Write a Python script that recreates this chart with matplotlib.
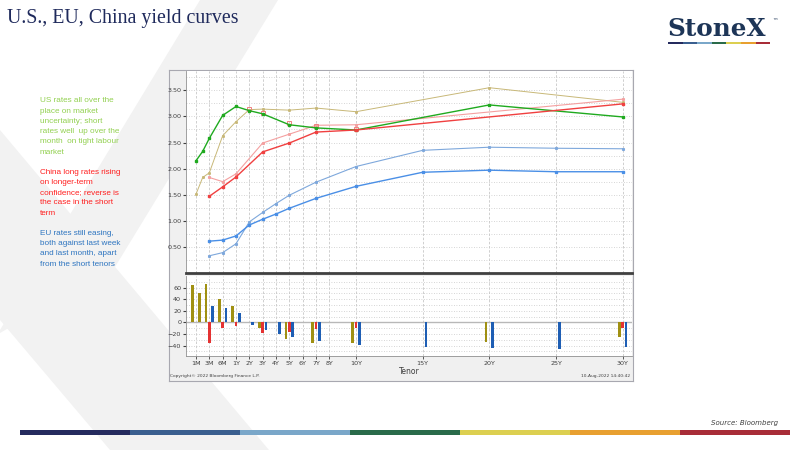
import matplotlib.pyplot as plt
from matplotlib.patches import Polygon, Rectangle

# tenors and yields (%)
us_tenors = ['1M', '2M', '3M', '6M', '1Y', '2Y', '3Y', '5Y', '7Y', '10Y', '20Y', '30Y']
us_now = [2.15, 2.33, 2.58, 3.02, 3.19, 3.11, 3.05, 2.84, 2.78, 2.74, 3.22, 2.99]
us_month = [1.51, 1.83, 1.92, 2.63, 2.90, 3.13, 3.14, 3.12, 3.16, 3.09, 3.55, 3.27]
us_week_tenors = ['2Y', '3Y', '5Y', '7Y', '10Y']
us_week = [3.14, 3.07, 2.87, 2.81, 2.75]

cn_tenors = ['3M', '6M', '1Y', '3Y', '5Y', '7Y', '10Y', '30Y']
cn_now = [1.47, 1.65, 1.84, 2.32, 2.49, 2.70, 2.74, 3.24]
cn_month = [1.83, 1.75, 1.90, 2.49, 2.66, 2.83, 2.84, 3.33]

eu_tenors = ['3M', '6M', '1Y', '2Y', '3Y', '4Y', '5Y', '7Y', '10Y', '15Y', '20Y', '25Y', '30Y']
eu_now = [0.61, 0.63, 0.71, 0.92, 1.03, 1.13, 1.24, 1.43, 1.66, 1.93, 1.97, 1.94, 1.94]
eu_month = [0.33, 0.39, 0.56, 0.98, 1.16, 1.33, 1.49, 1.74, 2.04, 2.35, 2.41, 2.39, 2.38]

# monthly change, bp
us_chg_tenors = ['1M', '2M', '3M', '6M', '1Y', '3Y', '5Y', '7Y', '10Y', '20Y', '30Y']
us_chg = [64, 50, 66, 40, 29, -10, -28, -36, -36, -33, -26]
cn_chg = [-36, -10, -7, -18, -17, -12, -10, -9]
eu_chg = [28, 25, 16, -5, -13, -20, -25, -32, -39, -42, -44, -46, -43]

axis_labels = ['1M', '3M', '6M', '1Y', '2Y', '3Y', '4Y', '5Y', '6Y', '7Y', '8Y',
               '10Y', '15Y', '20Y', '25Y', '30Y']

notes = [
    ("US rates all over the\nplace on market\nuncertainty; short\nrates well  up over the\nmonth  on tight labour\nmarket", '#92d050'),
    ("China long rates rising\non longer-term\nconfidence; reverse is\nthe case in the short\nterm", '#ff2020'),
    ("EU rates still easing,\nboth against last week\nand last month, apart\nfrom the short tenors", '#2e75c0'),
]


def tx(t):
    # Bloomberg tenor axis: 1M,3M,6M,1Y evenly spaced, then linear in years
    if t.endswith('M'):
        return {'1M': 0, '2M': 0.5, '3M': 1, '6M': 2}[t]
    return int(t[:-1]) + 2


def xs(tenors):
    return [tx(t) for t in tenors]


W, H = 800, 450
fig = plt.figure(figsize=(8, 4.5), dpi=100)
fig.patch.set_facecolor('white')


def fx(px):
    return px / W


def fy(py):
    return 1 - py / H


# background watermark "X"
bg = fig.add_axes([0, 0, 1, 1], zorder=-5)
bg.set_xlim(0, W)
bg.set_ylim(H, 0)
bg.axis('off')
wm = '#f2f2f2'
bg.add_patch(Polygon([(200, 0), (278, 0), (115, 267), (0, 333), (0, 330)], color=wm, lw=0))
bg.add_patch(Polygon([(0, 130), (0, 320), (110, 450), (269, 450)], color=wm, lw=0))

fig.text(fx(7), fy(19), 'U.S., EU, China yield curves', family='Liberation Serif',
         fontsize=14.3, color='#1f2a5c', va='center', ha='left')

# logo
fig.text(fx(667), fy(28.5), 'StoneX', family='DejaVu Serif', fontweight='bold',
         fontsize=17.8, color='#1d3557', va='center', ha='left')
fig.text(fx(772), fy(21), '\u2122', fontsize=4, color='#1d3557', va='center')
strip = ['#252b5e', '#3a5f8f', '#7aa7c9', '#2a6b4a', '#dccf50', '#e8a030', '#a82d38']
for i, c in enumerate(strip):
    bg.add_patch(Rectangle((668 + i * 14.6, 41.5), 14.6, 2.5, color=c, lw=0))
for i, c in enumerate(strip):
    bg.add_patch(Rectangle((20 + i * 110, 429.5), 110, 5, color=c, lw=0))
fig.text(fx(778), fy(423), 'Source: Bloomberg', fontsize=5, style='italic',
         color='#404040', ha='right', va='center')

# side notes, one text per line so the spacing is exact
ny = 101
for txt, col in notes:
    for line in txt.split('\n'):
        fig.text(fx(40), fy(ny), line, fontsize=5.9, color=col, va='center', ha='left',
                 family='Liberation Sans')
        ny += 10.2
    ny += 10.2

# Bloomberg chart frame
frame = fig.add_axes([fx(169), fy(381), fx(633 - 169), (381 - 70) / H], zorder=0)
frame.set_facecolor('#f0f0f0')
frame.set_xticks([])
frame.set_yticks([])
for s in frame.spines.values():
    s.set_color('#a8a8b0')
    s.set_linewidth(0.8)

x_lo, x_hi = -0.75, 32.7
grid_kw = dict(color='#c8c8c8', lw=0.6)

ax = fig.add_axes([fx(186), fy(273), fx(632 - 186), (273 - 71) / H], zorder=1)
ax.set_facecolor('white')
ax.plot(xs(us_tenors), us_month, color='#c8b878', lw=0.7, marker='s', ms=1.1, zorder=3)
ax.plot(xs(cn_tenors), cn_month, color='#f4a0a0', lw=0.8, marker='s', ms=1.2, zorder=3)
ax.plot(xs(eu_tenors), eu_month, color='#7ea8dc', lw=0.8, marker='s', ms=1.2, zorder=3)
ax.plot(xs(us_week_tenors), us_week, ls='none', marker='s', ms=3.2, mfc='none',
        mec='#f08080', mew=0.7, zorder=4)
ax.plot(xs(us_tenors), us_now, color='#1faa1f', lw=1.0, marker='s', ms=1.6, zorder=5)
ax.plot(xs(cn_tenors), cn_now, color='#f04040', lw=1.0, marker='s', ms=1.6, zorder=5)
ax.plot(xs(eu_tenors), eu_now, color='#4a8fe6', lw=1.0, marker='s', ms=1.6, zorder=5)
ax.set_xlim(x_lo, x_hi)
ax.set_ylim(0, 3.87)
ax.set_yticks([0.5, 1.0, 1.5, 2.0, 2.5, 3.0, 3.5])
ax.set_yticklabels(['%.2f' % v for v in ax.get_yticks()])
ax.set_yticks([i * 0.25 for i in range(1, 16)], minor=True)
ax.set_xticks(xs(axis_labels))
ax.tick_params(axis='x', length=0, labelbottom=False)
ax.tick_params(axis='y', which='major', length=2, width=0.8, labelsize=4.6,
               colors='#404040', pad=1.5)
ax.tick_params(axis='y', which='minor', length=0)
ax.grid(True, axis='x', ls=(0, (3, 2)), **grid_kw)
ax.grid(True, axis='y', which='both', ls=(0, (1, 2)), **grid_kw)
for s in ['top', 'right']:
    ax.spines[s].set_visible(False)
ax.spines['left'].set_color('#909090')
ax.spines['left'].set_linewidth(0.6)
ax.spines['bottom'].set_color('#404040')
ax.spines['bottom'].set_linewidth(2.0)

bx = fig.add_axes([fx(186), fy(356), fx(632 - 186), (356 - 276) / H], zorder=1)
bx.set_facecolor('white')
bw = 0.22
bx.bar([x - 0.25 for x in xs(us_chg_tenors)], us_chg, width=bw, color='#a09012', zorder=3)
bx.bar(xs(cn_tenors), cn_chg, width=bw, color='#e43232', zorder=3)
bx.bar([x + 0.25 for x in xs(eu_tenors)], eu_chg, width=bw, color='#1e5eb4', zorder=3)
bx.axhline(0, color='#b8b8b8', lw=1.0, zorder=2)
bx.set_xlim(x_lo, x_hi)
bx.set_ylim(-58, 80)
bx.set_yticks([-40, -20, 0, 20, 40, 60])
bx.set_yticks(range(-50, 80, 10), minor=True)
bx.set_xticks(xs(axis_labels))
bx.set_xticklabels(axis_labels)
bx.tick_params(axis='x', length=2, width=0.6, labelsize=4.6, colors='#404040', pad=1.5)
bx.tick_params(axis='y', which='major', length=2, width=0.8, labelsize=4.6,
               colors='#404040', pad=1.5)
bx.tick_params(axis='y', which='minor', length=0)
bx.grid(True, axis='x', ls=(0, (3, 2)), **grid_kw)
bx.grid(True, axis='y', which='both', ls=(0, (1, 2)), **grid_kw)
for s in ['top', 'right']:
    bx.spines[s].set_visible(False)
for s in ['left', 'bottom']:
    bx.spines[s].set_color('#909090')
    bx.spines[s].set_linewidth(0.6)
bx.set_xlabel('Tenor', fontsize=5.5, color='#404040', labelpad=1)

fig.text(fx(170), fy(376), 'Copyright\u00a9 2022 Bloomberg Finance L.P.', fontsize=3.2,
         color='#404040', va='center', ha='left')
fig.text(fx(630), fy(376), '10-Aug-2022 14:40:42', fontsize=3.2,
         color='#404040', va='center', ha='right')

fig.savefig('out.png', dpi=100)
